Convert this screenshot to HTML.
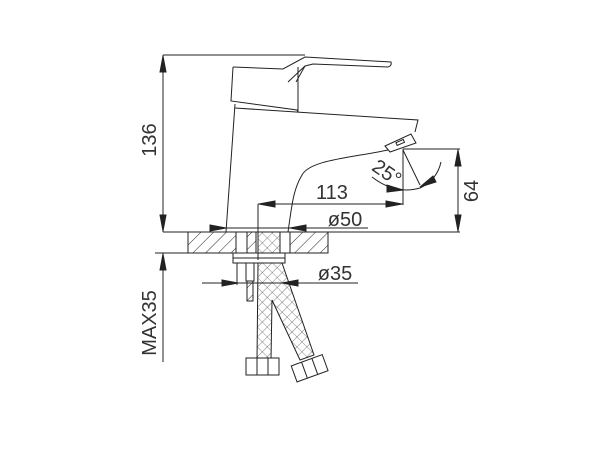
<!DOCTYPE html>
<html><head><style>body{margin:0;background:#fff}svg{display:block}</style></head><body>
<svg width="600" height="450" viewBox="0 0 600 450" xmlns="http://www.w3.org/2000/svg" font-family="Liberation Sans, sans-serif" fill="none" stroke="#222" stroke-width="1">
<defs>
<pattern id="h" width="9" height="9" patternUnits="userSpaceOnUse" patternTransform="rotate(45)"><line x1="0" y1="0" x2="0" y2="9" stroke="#222" stroke-width="1"/></pattern>
<pattern id="x" width="7" height="7" patternUnits="userSpaceOnUse" patternTransform="rotate(45)"><path d="M0 0V7M0 0H7" stroke="#222" stroke-width="0.6"/></pattern>
</defs>
<line x1="163" y1="55" x2="305" y2="55"/>
<line x1="163" y1="55" x2="163" y2="232"/>
<polygon points="163,56 160,72 166,72" fill="#222"/>
<polygon points="163,231 160,215 166,215" fill="#222"/>
<line x1="163" y1="232" x2="460" y2="232"/>
<line x1="155" y1="253" x2="190" y2="253"/>
<line x1="163" y1="253" x2="163" y2="362"/>
<polygon points="163,254 160,270 166,270" fill="#222"/>
<text transform="translate(156,140) rotate(-90)" font-size="20" fill="#333" stroke="none" text-anchor="middle">136</text>
<text transform="translate(156,323) rotate(-90)" font-size="20" fill="#333" stroke="none" text-anchor="middle">MAX35</text>
<path d="M233,67 L283,69 L305,57 L391,62 Q392,66 388,67 L313,64 L305,66 L288,82"/>
<path d="M305,66 L296,82"/>
<path d="M233,67 L231,101 L297,110 L298,112 L298,67"/>
<path d="M235,104 L226,232"/>
<path d="M235,108 L418,120 L415,132"/>
<path d="M385,146 L411,134 L416,143 L390,152 Z"/>
<rect x="396" y="141" width="8" height="3" transform="rotate(-24 400 142)"/>
<path d="M388,150 C350,158 310,160 302,175 C293,190 292,205 288,232"/>
<line x1="258" y1="204" x2="403" y2="204"/>
<line x1="258" y1="204" x2="258" y2="260"/>
<line x1="403" y1="149" x2="403" y2="205"/>
<polygon points="259,204 275,201 275,207" fill="#222"/>
<polygon points="402,204 386,201 386,207" fill="#222"/>
<text x="332" y="199" font-size="20" fill="#333" stroke="none" text-anchor="middle">113</text>
<line x1="403" y1="149" x2="460" y2="149"/>
<line x1="458" y1="149" x2="458" y2="232"/>
<polygon points="458,150 455,166 461,166" fill="#222"/>
<polygon points="458,231 455,215 461,215" fill="#222"/>
<text transform="translate(478,191) rotate(-90)" font-size="20" fill="#333" stroke="none" text-anchor="middle">64</text>
<line x1="403" y1="150" x2="420" y2="185"/>
<path d="M372,177 Q395,195 420,188 Q437,180 441,162"/>
<polygon points="403,190 387,185 387,192" fill="#222"/>
<polygon points="420,187 433,176 436,182" fill="#222"/>
<text transform="translate(383,178) rotate(35)" font-size="20" fill="#333" stroke="none" text-anchor="middle">25°</text>
<line x1="210" y1="228" x2="368" y2="228"/>
<polygon points="226,228 210,225 210,231" fill="#222"/>
<polygon points="290,228 306,225 306,231" fill="#222"/>
<text x="345" y="226" font-size="20" fill="#333" stroke="none" text-anchor="middle">ø50</text>
<rect x="188" y="232" width="48" height="21" fill="url(#h)"/>
<rect x="290" y="232" width="38" height="21" fill="url(#h)"/>
<rect x="188" y="232" width="140" height="21"/>
<rect x="247" y="232" width="9" height="21" fill="url(#h)"/>
<rect x="258" y="232" width="22" height="21" fill="url(#x)"/>
<line x1="236" y1="232" x2="236" y2="253"/><line x1="290" y1="232" x2="290" y2="253"/>
<rect x="233" y="253" width="52" height="10"/>
<line x1="233" y1="258" x2="285" y2="258"/>
<line x1="202" y1="283" x2="358" y2="283"/>
<polygon points="238,283 222,280 222,286" fill="#222"/>
<polygon points="282,283 298,280 298,286" fill="#222"/>
<text x="335" y="280" font-size="20" fill="#333" stroke="none" text-anchor="middle">ø35</text>
<line x1="237" y1="263" x2="237" y2="285"/>
<rect x="246" y="263" width="8" height="18"/>
<rect x="247" y="281" width="6" height="20" fill="url(#h)"/>
<path d="M258,263 L257,360 L271,360 L272,300 L300,360 L314,355 L282,263 Z" fill="url(#x)"/>
<rect x="246" y="358" width="33" height="17" fill="#fff"/>
<line x1="257" y1="358" x2="257" y2="375"/><line x1="268" y1="358" x2="268" y2="375"/>
<g transform="rotate(-20 309 368)"><rect x="293" y="360" width="33" height="17" fill="#fff"/><line x1="304" y1="360" x2="304" y2="377"/><line x1="315" y1="360" x2="315" y2="377"/></g>
</svg>
</body></html>
